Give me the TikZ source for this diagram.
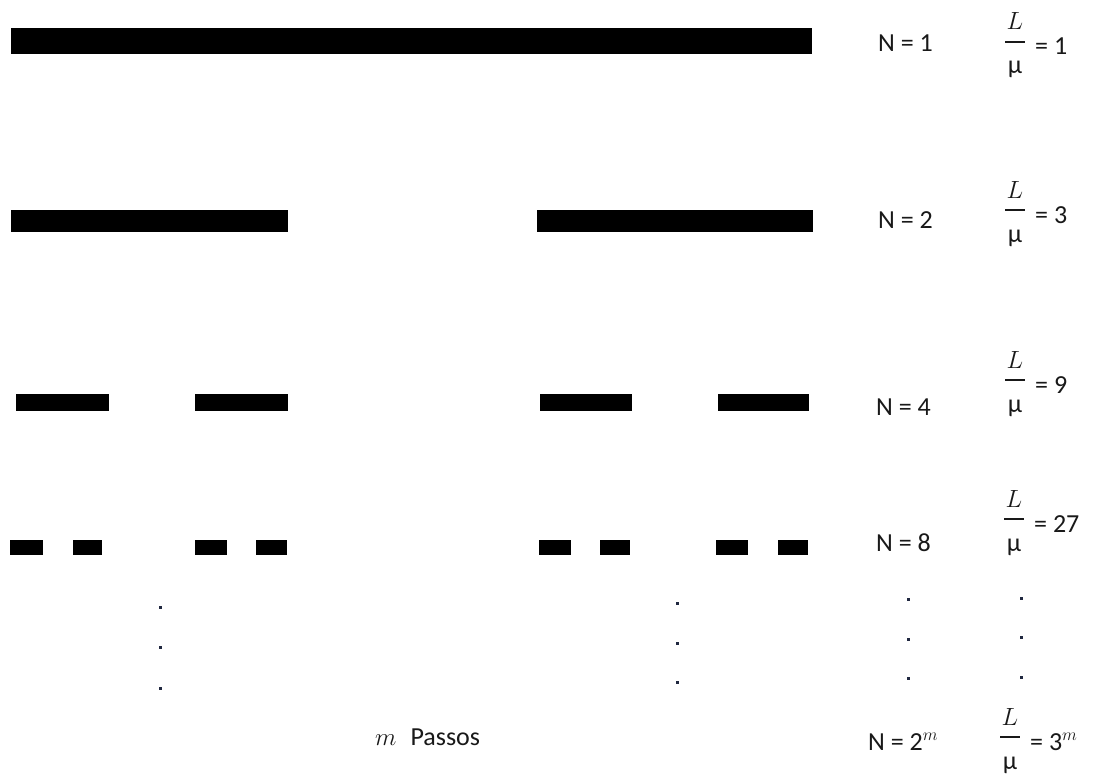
\documentclass[tikz,border=0pt]{standalone}
\usepackage{fontspec}
\setmainfont{Carlito}
\begin{document}
\begin{tikzpicture}[x=1pt,y=-1pt,
  bar/.style={fill=black,draw=none},
  tdot/.style={fill={rgb,255:red,32;green,40;blue,64},draw=none,rectangle,minimum size=3pt,inner sep=0pt},
  lab/.style={font=\fontsize{26}{30}\selectfont,inner sep=0pt,anchor=base west,text={rgb,255:red,25;green,25;blue,25}},
  fr/.style={font=\fontsize{26}{30}\selectfont,inner sep=0pt,anchor=base,text={rgb,255:red,25;green,25;blue,25}},
  fline/.style={line width=1.5pt,draw={rgb,255:red,25;green,25;blue,25}}]
\fill[white] (0,0) rectangle (1094,778);
\useasboundingbox (0,0) rectangle (1094,778);
% row 1
\fill[bar] (11,28) rectangle (812,54);
% row 2
\fill[bar] (11,210) rectangle (288,232);
\fill[bar] (537,210) rectangle (813,232);
% row 3
\foreach \a/\b in {16/109,195/288,540/632,718/809}
  \fill[bar] (\a,394) rectangle (\b,411);
% row 4
\foreach \a/\b in {10/43,73/102,195/227,256/287,539/571,600/630,716/748,778/808}
  \fill[bar] (\a,540) rectangle (\b,555);
% dots
\node[tdot] (d1) at (160,607) {};
\node[tdot] (d2) at (160,647) {};
\node[tdot] (d3) at (160,688) {};
\node[tdot] (d4) at (677,603) {};
\node[tdot] (d5) at (677,643) {};
\node[tdot] (d6) at (677,682) {};
\node[tdot] (d7) at (908,599) {};
\node[tdot] (d8) at (908,639) {};
\node[tdot] (d9) at (908,678) {};
\node[tdot] (d10) at (1021,598) {};
\node[tdot] (d11) at (1021,637) {};
\node[tdot] (d12) at (1021,677) {};
% N labels
\node[lab] (n1) at (878,52) {N = 1};
\node[lab] (n2) at (878,228) {N = 2};
\node[lab] (n4) at (876,415) {N = 4};
\node[lab] (n8) at (876,551) {N = 8};
\node[lab] (nm) at (868,750) {N = 2$^{m}$};
% fractions
\foreach \nm/\yl/\xl/\val in {f1/42/1015/1,f2/210/1015/3,f3/380/1015/9,f4/519/1014/27,fm/737/1010/3$^{m}$}{
  \draw[fline] (\xl-10,\yl) -- (\xl+10,\yl);
  \node[fr] (\nm L) at (\xl,\yl-12) {$L$};
  \node[fr] (\nm M) at (\xl,\yl+32) {µ};
  \node[lab] (\nm E) at (\xl+20,\yl+13) {= \val};
}
% steps label
\node[lab] (passos) at (375,745) {$m$\hspace{14pt}Passos};
\end{tikzpicture}
\end{document}
